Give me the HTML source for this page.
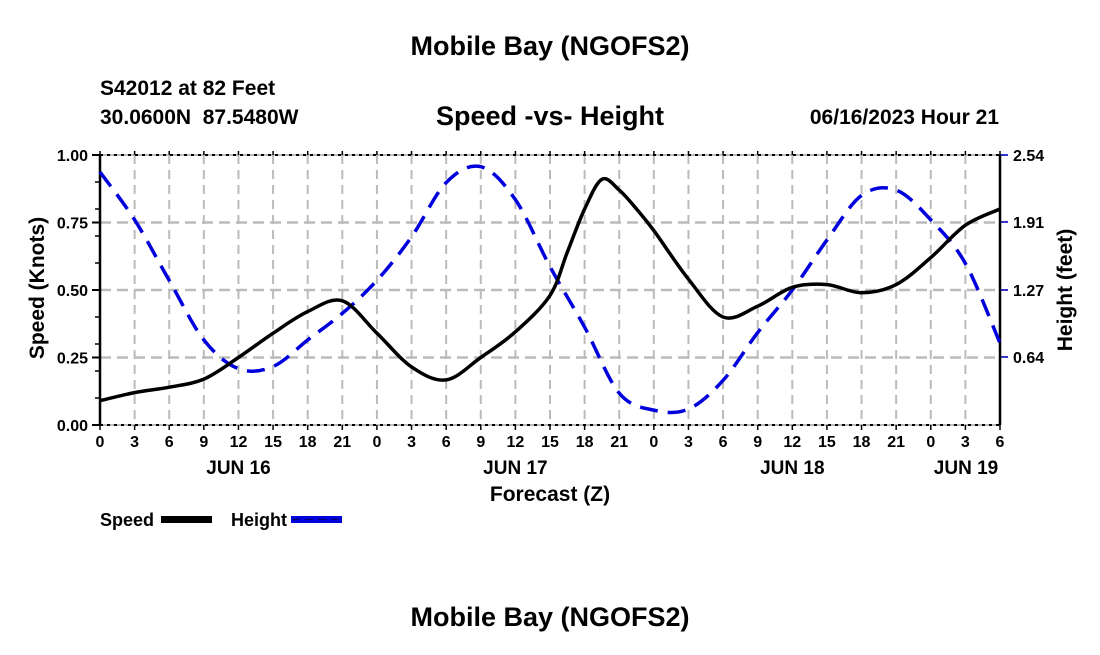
<!DOCTYPE html>
<html><head><meta charset="utf-8"><style>
body{margin:0;background:#fff;}
svg text{font-family:"Liberation Sans",Arial,sans-serif;font-weight:bold;fill:#000;}
</style></head><body>
<svg id="chart" width="1100" height="650" viewBox="0 0 1100 650" xmlns="http://www.w3.org/2000/svg">
<rect width="1100" height="650" fill="#fff"/>
<text x="550" y="55" font-size="27" text-anchor="middle">Mobile Bay (NGOFS2)</text>
<text x="100" y="95" font-size="21">S42012 at 82 Feet</text>
<text x="100" y="124" font-size="21" xml:space="preserve">30.0600N  87.5480W</text>
<text x="550" y="125" font-size="27" text-anchor="middle">Speed -vs- Height</text>
<text x="999" y="124" font-size="21" text-anchor="end">06/16/2023 Hour 21</text>
<g id="grid"></g>
<g id="axes"></g>
<g id="series"></g>
<text x="550" y="501" font-size="21" text-anchor="middle">Forecast (Z)</text>
<text transform="translate(44,288) rotate(-90)" font-size="21" text-anchor="middle">Speed (Knots)</text>
<text transform="translate(1072,290) rotate(-90)" font-size="21" text-anchor="middle">Height (feet)</text>
<g>
<text x="100" y="526" font-size="18">Speed</text>
<rect x="161" y="516" width="51" height="7" fill="#000"/>
<text x="231" y="526" font-size="18">Height</text>
<rect x="291" y="516" width="51" height="7" fill="#0000dd"/>
<line x1="292" y1="519.5" x2="342" y2="519.5" stroke="#000" stroke-width="1" stroke-dasharray="8,5" opacity="0.5"/>
</g>
<text x="550" y="626" font-size="27" text-anchor="middle">Mobile Bay (NGOFS2)</text>
</svg>
<script>
const speedHours = [0,3,6,9,12,15,18,21,24,27,30,33,36,39,40.5,42,43.5,45,46.5,48,51,54,57,60,63,66,69,72,75,78];
const speedKnots = [0.09,0.12,0.14,0.17,0.25,0.34,0.42,0.46,0.34,0.215,0.167,0.25,0.345,0.48,0.64,0.80,0.91,0.87,0.80,0.72,0.54,0.40,0.44,0.51,0.52,0.49,0.52,0.62,0.74,0.80];
const heightHours = [0,3,6,9,12,15,18,21,24,27,30,33,36,39,42,45,48,51,54,57,60,63,66,69,72,75,78];
const heightFeet = [2.38,1.93,1.36,0.80,0.53,0.55,0.80,1.05,1.36,1.77,2.28,2.43,2.12,1.49,0.92,0.30,0.14,0.15,0.42,0.87,1.27,1.74,2.16,2.21,1.93,1.52,0.77];
const speedTicks = ["0.00","0.25","0.50","0.75","1.00"];
const heightTicks = ["0.64","1.27","1.91","2.54"];
const hourLabels = ["0","3","6","9","12","15","18","21"];
const dayLabels = ["JUN 16","JUN 17","JUN 18","JUN 19"];

const NS="http://www.w3.org/2000/svg";
const X0=100,X1=1000,Y0=425,Y1=155,HMAX=78,SMAX=1,FMAX=2.54;
const xs=h=>X0+(X1-X0)*h/HMAX;
const ys=v=>Y0-(Y0-Y1)*v/SMAX;
const yh=v=>Y0-(Y0-Y1)*v/FMAX;
function mk(tag,attrs,parent){const e=document.createElementNS(NS,tag);for(const k in attrs)e.setAttribute(k,attrs[k]);parent.appendChild(e);return e;}
const grid=document.getElementById('grid'),axes=document.getElementById('axes'),series=document.getElementById('series');

for(let h=3;h<HMAX;h+=3){
  const l=mk('line',{x1:xs(h),x2:xs(h),y1:Y1,y2:Y0,stroke:'#bbb','stroke-width':2,'stroke-dasharray':'9,6'},grid);
  
  
}
speedTicks.forEach(t=>{
  const v=parseFloat(t);
  if(v>0&&v<1){
    const l=mk('line',{x1:X0,x2:X1,y1:ys(v),y2:ys(v),stroke:'#bbb','stroke-width':2.5,'stroke-dasharray':'11,6'},grid);
    
    
  }
  const tk=mk('line',{x1:X0-8,x2:X0,y1:ys(v),y2:ys(v),stroke:'#000','stroke-width':2},axes);
  
  
  const tx=mk('text',{x:X0-12,y:ys(v)+6,'font-size':16,'text-anchor':'end'},axes);
  tx.textContent=t;
  
  
});
for(let k=1;k<10;k++){
  const y=Y1+(Y0-Y1)*k/10;
  mk('line',{x1:X0-5,x2:X0,y1:y,y2:y,stroke:'#000','stroke-width':1.5},axes);
}
heightTicks.forEach(t=>{
  const v=parseFloat(t);
  const tk=mk('line',{x1:X1,x2:X1+8,y1:yh(v),y2:yh(v),stroke:'#3333cc','stroke-width':2},axes);
  
  
  const tx=mk('text',{x:X1+13,y:yh(v)+6,'font-size':16},axes);
  tx.textContent=t;
  
  
});
[Y1,Y0].forEach(y=>{
  mk('line',{x1:X0,x2:X1,y1:y,y2:y,stroke:'#bbb','stroke-width':2},axes);
  const b=mk('line',{x1:X0,x2:X1,y1:y,y2:y,stroke:'#000','stroke-width':2,'stroke-dasharray':'3,4'},axes);
  
  
});
const la=mk('line',{x1:X0,x2:X0,y1:Y1,y2:Y0,stroke:'#000','stroke-width':2.5},axes);


const ra=mk('line',{x1:X1,x2:X1,y1:Y1,y2:Y0,stroke:'#000','stroke-width':2.5},axes);


for(let h=0;h<=HMAX;h+=3){
  mk('line',{x1:xs(h),x2:xs(h),y1:Y1-4,y2:Y1,stroke:'#000','stroke-width':1.5},axes);
  mk('line',{x1:xs(h),x2:xs(h),y1:Y0,y2:Y0+5,stroke:'#000','stroke-width':1.5},axes);
  const tx=mk('text',{x:xs(h),y:Y0+22,'font-size':16,'text-anchor':'middle'},axes);
  tx.textContent=hourLabels[(h/3)%8];
  
  
}
dayLabels.forEach((d,i)=>{
  const tx=mk('text',{x:i===3?xs(HMAX)-34:xs(12+24*i),y:Y0+49,'font-size':19,'text-anchor':'middle'},axes);
  tx.textContent=d;
  
  
});
function smooth(pts){
  let d=`M${pts[0][0]},${pts[0][1]}`;
  for(let i=0;i<pts.length-1;i++){
    const p0=pts[Math.max(0,i-1)],p1=pts[i],p2=pts[i+1],p3=pts[Math.min(pts.length-1,i+2)];
    const c1=[p1[0]+(p2[0]-p0[0])/6,p1[1]+(p2[1]-p0[1])/6];
    const c2=[p2[0]-(p3[0]-p1[0])/6,p2[1]-(p3[1]-p1[1])/6];
    d+=` C${c1[0]},${c1[1]} ${c2[0]},${c2[1]} ${p2[0]},${p2[1]}`;
  }
  return d;
}
const hp=mk('path',{d:smooth(heightHours.map((h,i)=>[xs(h),yh(heightFeet[i])])),fill:'none',stroke:'#0000dd','stroke-width':3.5,'stroke-dasharray':'18,10'},series);


const sp=mk('path',{d:smooth(speedHours.map((h,i)=>[xs(h),ys(speedKnots[i])])),fill:'none',stroke:'#000','stroke-width':3.5},series);


</script>
</body></html>
